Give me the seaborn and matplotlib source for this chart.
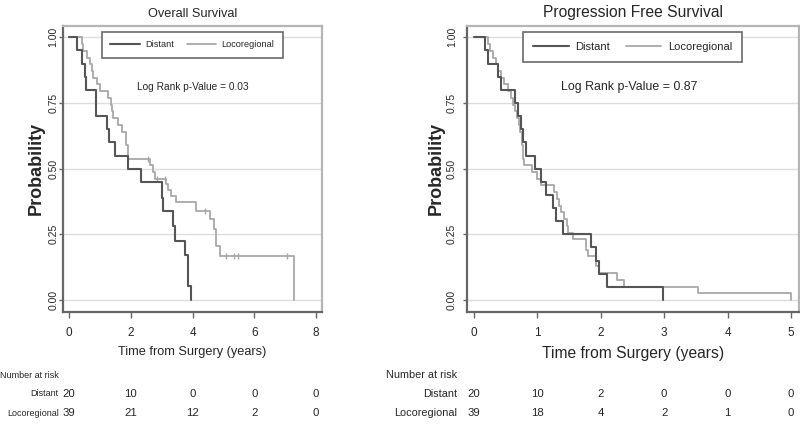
import numpy as np
import pandas as pd
import matplotlib
matplotlib.use('Agg')
import matplotlib.pyplot as plt
import matplotlib.transforms as mtrans
from matplotlib.lines import Line2D
import seaborn as sns

# Overall survival - step times (years) and survival after each step
os_dist_t = [0, 0.26, 0.42, 0.50, 0.55, 0.86, 1.23, 1.29, 1.50, 1.89, 2.34, 3.00, 3.05, 3.36, 3.42, 3.74, 3.85, 3.94]
os_dist_s = [1.0, 0.95, 0.90, 0.85, 0.80, 0.70, 0.65, 0.60, 0.55, 0.50, 0.45, 0.39, 0.34, 0.28, 0.225, 0.17, 0.055, 0.0]

os_loc_t = [0, 0.41, 0.46, 0.57, 0.68, 0.74, 0.78, 0.89, 1.00, 1.27, 1.35, 1.39, 1.42, 1.58, 1.71, 1.83, 1.90,
            2.61, 2.70, 2.77, 3.13, 3.20, 3.31, 3.45, 4.12, 4.55, 4.68, 4.75, 4.90, 7.29]
os_loc_s = [1.0, 0.974, 0.949, 0.923, 0.897, 0.872, 0.846, 0.821, 0.795, 0.769, 0.744, 0.718, 0.692, 0.667, 0.641, 0.590, 0.538,
            0.513, 0.487, 0.462, 0.440, 0.420, 0.395, 0.372, 0.338, 0.307, 0.270, 0.206, 0.168, 0.0]
os_loc_cens = [2.56, 2.83, 3.12, 4.39, 5.09, 5.35, 5.46, 7.07]

# Progression free survival
pfs_dist_t = [0, 0.17, 0.22, 0.38, 0.42, 0.65, 0.69, 0.74, 0.78, 0.82, 0.96, 1.05, 1.14, 1.25, 1.30, 1.41, 1.85, 1.93, 1.98, 2.10, 2.98]
pfs_dist_s = [1.0, 0.95, 0.90, 0.85, 0.80, 0.75, 0.70, 0.65, 0.60, 0.55, 0.50, 0.45, 0.40, 0.35, 0.30, 0.25, 0.20, 0.15, 0.10, 0.05, 0.0]

pfs_loc_t = [0, 0.22, 0.26, 0.30, 0.34, 0.38, 0.42, 0.47, 0.54, 0.59, 0.61, 0.64, 0.68, 0.71, 0.73, 0.75, 0.76, 0.77, 0.78, 0.79,
             0.91, 0.99, 1.06, 1.26, 1.31, 1.34, 1.38, 1.42, 1.46, 1.49, 1.56, 1.77, 1.80, 1.93, 1.98, 2.25, 2.36, 3.53, 5.00]
pfs_loc_s = [1.0, 0.974, 0.949, 0.923, 0.897, 0.872, 0.846, 0.821, 0.795, 0.769, 0.744, 0.718, 0.692, 0.667, 0.641, 0.615, 0.590, 0.564, 0.538, 0.513,
             0.487, 0.462, 0.436, 0.410, 0.385, 0.359, 0.333, 0.308, 0.282, 0.256, 0.231, 0.192, 0.167, 0.128, 0.103, 0.077, 0.051, 0.026, 0.0]

# Number at risk
os_risk_t = [0, 2, 4, 6, 8]
os_risk_dist = [20, 10, 0, 0, 0]
os_risk_loc = [39, 21, 12, 2, 0]
pfs_risk_t = [0, 1, 2, 3, 4, 5]
pfs_risk_dist = [20, 10, 2, 0, 0, 0]
pfs_risk_loc = [39, 18, 4, 2, 1, 0]

dark = '#555555'
light = '#a8a8a8'

sns.set_style('white')
plt.rcParams['font.family'] = ['Liberation Sans', 'DejaVu Sans']


def step_at(ts, ss, t):
    i = np.searchsorted(ts, t, side='right') - 1
    return ss[i]


def draw_panel(ax, dist_t, dist_s, loc_t, loc_s, cens, title, pval, xlim, xticks, big):
    df_d = pd.DataFrame({'time': dist_t, 'surv': dist_s})
    df_l = pd.DataFrame({'time': loc_t, 'surv': loc_s})
    sns.lineplot(data=df_l, x='time', y='surv', drawstyle='steps-post', estimator=None,
                 color=light, lw=1.3, ax=ax)
    sns.lineplot(data=df_d, x='time', y='surv', drawstyle='steps-post', estimator=None,
                 color=dark, lw=1.5, ax=ax)
    if cens:
        cy = [step_at(loc_t, loc_s, c) for c in cens]
        sns.scatterplot(x=cens, y=cy, marker='|', s=25, color=light, linewidth=1, ax=ax)

    ax.set_xlim(*xlim)
    ax.set_ylim(-0.044, 1.045)
    ax.set_xticks(xticks)
    ax.set_xticklabels([str(t) for t in xticks])
    ax.set_yticks([0, 0.25, 0.5, 0.75, 1.0])
    ax.set_yticklabels(['0.00', '0.25', '0.50', '0.75', '1.00'], rotation=90, va='center',
                       fontsize=7.5)
    ax.yaxis.grid(True, color='#dddddd', lw=1)
    ax.xaxis.grid(False)
    ax.set_axisbelow(True)
    for s in ['left', 'bottom']:
        ax.spines[s].set_color('#666666')
        ax.spines[s].set_linewidth(1.6)
    for s in ['top', 'right']:
        ax.spines[s].set_color('#b5b5b5')
        ax.spines[s].set_linewidth(1.6)
    ax.tick_params(axis='x', bottom=True, length=4, width=1, color='#666666', pad=7,
                   labelsize=8.5)
    ax.tick_params(axis='y', left=True, length=3, width=1, color='#666666',
                   pad=4 if big else 0.5)

    f = 1.22 if big else 1.0
    ax.set_title(title, fontsize=9.2 * f, pad=6)
    ax.set_xlabel('Time from Surgery (years)', fontsize=9.2 * f, labelpad=5)
    ax.set_ylabel('Probability', fontweight='bold', fontsize=13)
    ax.yaxis.set_label_coords(-0.106 if not big else -0.093, 0.5)
    ax.yaxis.label.set_va('center')

    handles = [Line2D([0], [0], color=dark, lw=1.5), Line2D([0], [0], color=light, lw=1.3)]
    leg = ax.legend(handles, ['Distant', 'Locoregional'], ncol=2, loc='upper center',
                    bbox_to_anchor=(0.5, 0.977), frameon=True, fancybox=False,
                    edgecolor='#444444', fontsize=6.6 * f, handlelength=3.2,
                    columnspacing=1.4, borderpad=0.9, handletextpad=0.6, borderaxespad=0)
    leg.get_frame().set_linewidth(1.2)
    ax.text(0.5 if not big else 0.491, 0.785, 'Log Rank p-Value = ' + pval, transform=ax.transAxes,
            ha='center', va='center', fontsize=7.3 * f)


fig = plt.figure(figsize=(8, 4.24), dpi=100)
ax1 = fig.add_axes([63.3 / 800, 1 - 311.5 / 424, 258.4 / 800, 286 / 424])
ax2 = fig.add_axes([466.7 / 800, 1 - 311.5 / 424, 331.8 / 800, 286 / 424])

draw_panel(ax1, os_dist_t, os_dist_s, os_loc_t, os_loc_s, os_loc_cens, 'Overall Survival', '0.03',
           (-0.19, 8.18), os_risk_t, False)
draw_panel(ax2, pfs_dist_t, pfs_dist_s, pfs_loc_t, pfs_loc_s, [], 'Progression Free Survival', '0.87',
           (-0.115, 5.12), pfs_risk_t, True)

row_y = [1 - 375 / 424, 1 - 394 / 424, 1 - 413 / 424]


def risk_table(ax, lab_x, ts, dist, loc, fs_lab):
    fig.text(lab_x, row_y[0], 'Number at risk', ha='right', va='center', fontsize=fs_lab)
    fig.text(lab_x, row_y[1], 'Distant', ha='right', va='center', fontsize=fs_lab)
    fig.text(lab_x, row_y[2], 'Locoregional', ha='right', va='center', fontsize=fs_lab)
    trans = mtrans.blended_transform_factory(ax.transData, fig.transFigure)
    for t, d, l in zip(ts, dist, loc):
        ax.text(t, row_y[1], str(d), transform=trans, ha='center', va='center', fontsize=8.2)
        ax.text(t, row_y[2], str(l), transform=trans, ha='center', va='center', fontsize=8.2)


risk_table(ax1, 58.5 / 800, os_risk_t, os_risk_dist, os_risk_loc, 6.5)
risk_table(ax2, 457 / 800, pfs_risk_t, pfs_risk_dist, pfs_risk_loc, 7.8)

fig.savefig('out.png', dpi=100)
